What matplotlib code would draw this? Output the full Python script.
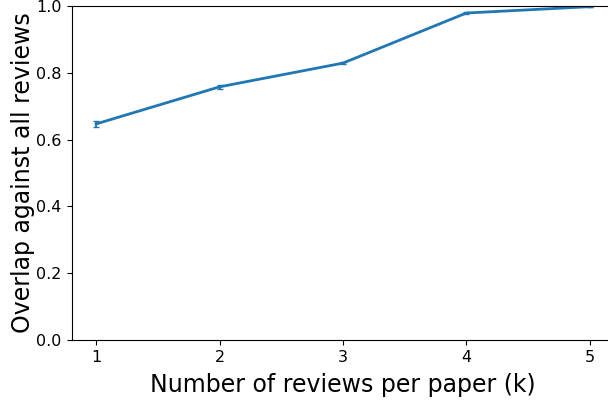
import matplotlib
matplotlib.use("Agg")
import matplotlib.pyplot as plt

# reviews per paper vs overlap with the full review set
k_values = [1, 2, 3, 4, 5]
overlap_mean = [0.647, 0.758, 0.829, 0.979, 0.998]
overlap_err = [0.008, 0.006, 0.003, 0.002, 0.0]

fig = plt.figure(figsize=(6.08, 4.0), dpi=100)
ax = fig.add_axes([0.1176, 0.15, 0.893, 0.835])

ax.errorbar(k_values, overlap_mean, yerr=overlap_err, color="tab:blue",
            linewidth=2, capsize=2.5, elinewidth=1.5)

ax.set_ylim(0, 1.0)
ax.set_xlim(0.8, 5.2)
ax.set_xticks(k_values)
ax.set_yticks([0.0, 0.2, 0.4, 0.6, 0.8, 1.0])
ax.tick_params(labelsize=11.5)
ax.set_xlabel("Number of reviews per paper (k)", fontsize=17, labelpad=6)
ax.set_ylabel("Overlap against all reviews", fontsize=17, labelpad=1)

fig.savefig("out.png", dpi=100)
